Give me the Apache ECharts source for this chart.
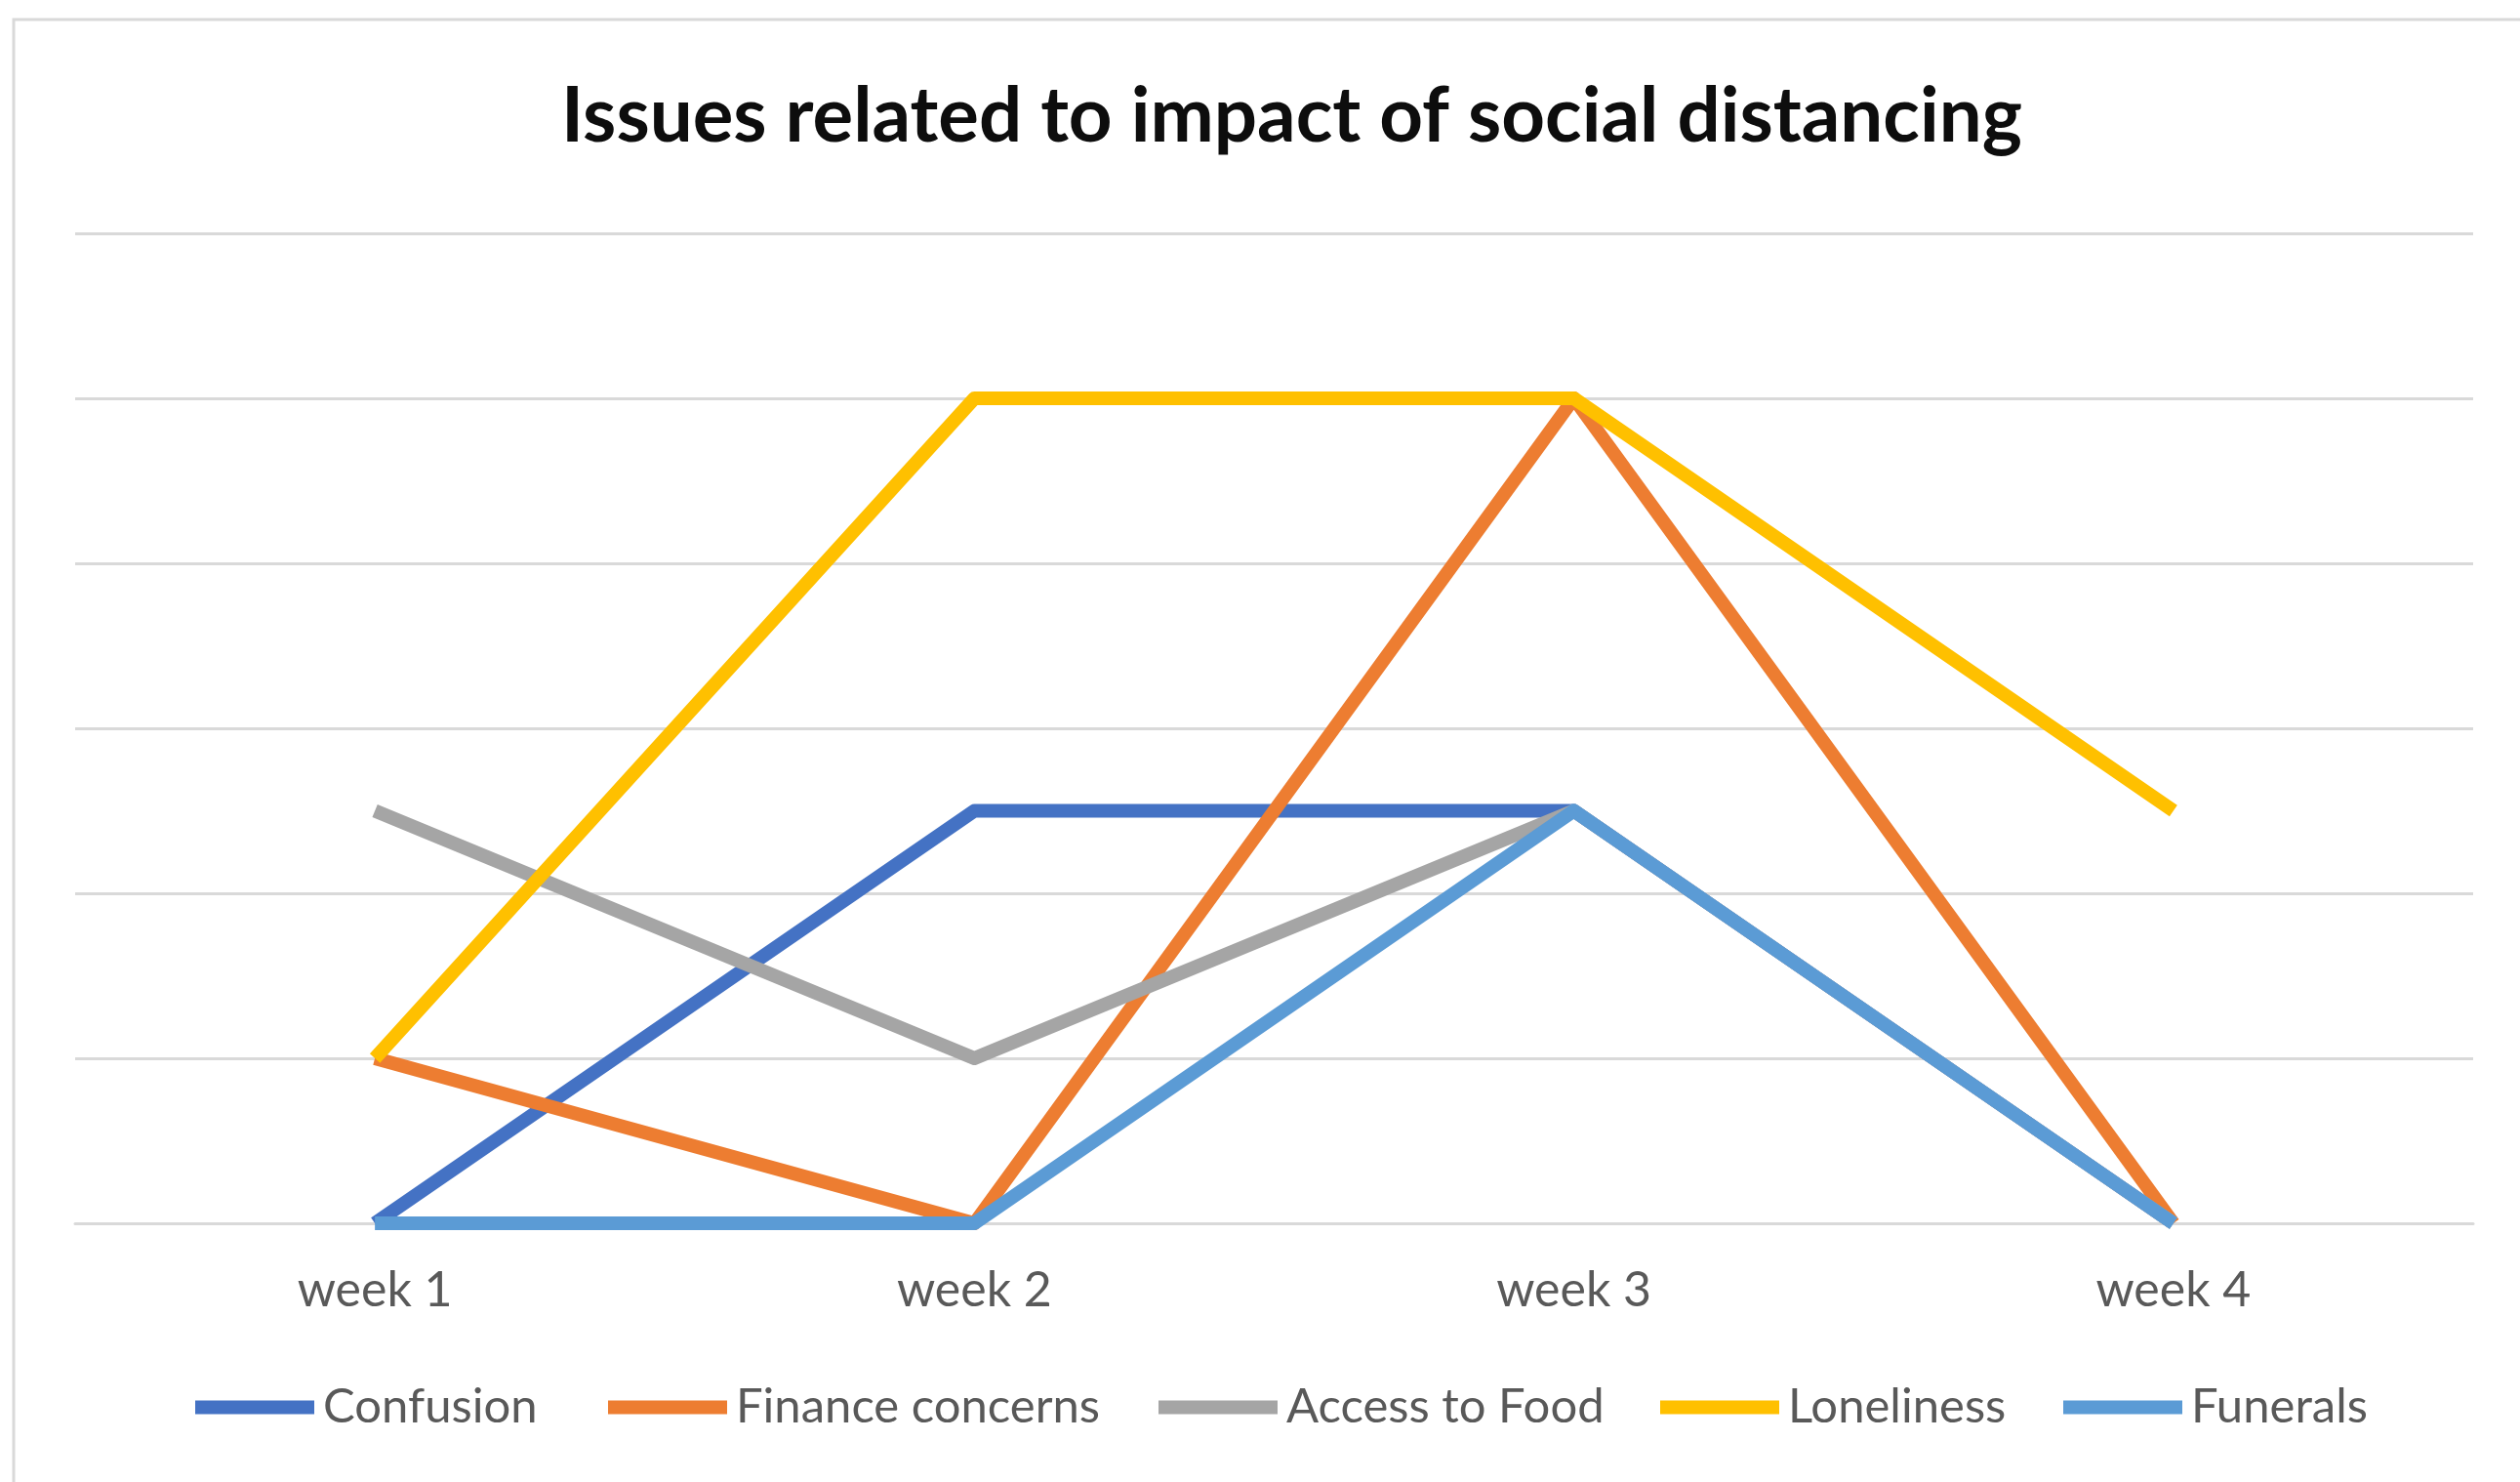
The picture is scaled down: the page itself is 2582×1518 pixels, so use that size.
<!DOCTYPE html>
<html>
<head>
<meta charset="utf-8">
<script src="https://cdn.jsdelivr.net/npm/echarts@6/dist/echarts.min.js"></script>
<style>
html,body{margin:0;padding:0;background:#fff;}
#chart{width:2582px;height:1518px;}
</style>
</head>
<body>
<div id="chart"></div>
<script>
const categories = ['week 1', 'week 2', 'week 3', 'week 4'];
const confusion = [0, 2.5, 2.5, 0];
const financeConcerns = [1, 0, 5, 0];
const accessToFood = [2.5, 1, 2.5, 0];
const loneliness = [1, 5, 5, 2.5];
const funerals = [0, 0, 2.5, 0];

const seriesNames = ['Confusion', 'Finance concerns', 'Access to Food', 'Loneliness', 'Funerals'];
const seriesData = [confusion, financeConcerns, accessToFood, loneliness, funerals];
const colors = ['#4472C4', '#ED7D31', '#A5A5A5', '#FFC000', '#5B9BD5'];
const legendLeft = [195, 618, 1182, 1696, 2109];

const FONT = 'Lato, "Open Sans", sans-serif';

const chart = echarts.init(document.getElementById('chart'));
chart.setOption({
  animation: false,
  backgroundColor: '#ffffff',
  color: colors,
  title: {
    text: 'Issues related to impact of social distancing',
    left: 570,
    top: 76,
    textStyle: { fontFamily: FONT, fontWeight: 'bold', fontSize: 78, color: '#0d0d0d' }
  },
  graphic: [{
    type: 'rect',
    shape: { x: 14, y: 20, width: 2620, height: 1560 },
    style: { fill: 'none', stroke: '#d9d9d9', lineWidth: 3 },
    silent: true
  }],
  legend: seriesNames.map((n, i) => ({
    data: [n],
    left: legendLeft[i],
    top: 1412,
    itemWidth: 122,
    itemHeight: 14,
    itemGap: 0,
    icon: 'rect',
    textStyle: { fontFamily: FONT, fontSize: 49, color: '#595959', padding: [0, 0, 0, 4] }
  })),
  grid: { left: 77, right: 48, top: 239, bottom: 265, containLabel: false },
  xAxis: {
    type: 'category',
    data: categories,
    boundaryGap: true,
    axisLine: { lineStyle: { color: '#d9d9d9', width: 3 } },
    axisTick: { show: false },
    axisLabel: { fontFamily: FONT, fontSize: 50, color: '#595959', margin: 44 }
  },
  yAxis: {
    type: 'value',
    min: 0,
    max: 6,
    interval: 1,
    axisLine: { show: false },
    axisTick: { show: false },
    axisLabel: { show: false },
    splitLine: { lineStyle: { color: '#d9d9d9', width: 3 } }
  },
  series: seriesNames.map((n, i) => ({
    name: n,
    type: 'line',
    data: seriesData[i],
    showSymbol: false,
    symbol: 'none',
    lineStyle: { width: 14, color: colors[i], join: 'round' },
    itemStyle: { color: colors[i] }
  }))
});
</script>
</body>
</html>
